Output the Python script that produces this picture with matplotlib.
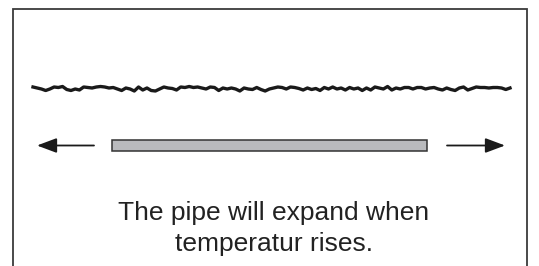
import numpy as np
import matplotlib.pyplot as plt
from matplotlib.patches import Rectangle

# rough "ground" line: vertical wiggle (px)
wave = [1, 0, -1, -2.5, -1, 1, 0.5, 1.5, -1.5, -2.5, -1, -2, 1, 0.5, 0, 1,
        1.5, 1, 0, 0.5, -1, -2.5, 0, -1, -3, 1, -2, 0, -2.5, -3, -1, 1,
        0, -0.5, -2, 1, 0.5, 1.5, 0.5, 1, 0, -1, 1, 0.5, -2.5, 0, -1, 0,
        -1, -3, 0, -1, -1.5, 0.5, -1.5, -3, -1, 0, 1, 0.5, -1, 1, 0.5, -0.5,
        -2, 0, -1.5, -0.5, -2.5, 0.5, -1, 1, -1, 0, -2, 0.5, -1, 0, -2.5, 0,
        -2, 1, 0, -1, 1.5, -2, 0, -1, 0.5, 0.5, -1, 0.5, 0.5, -1, 0, 0.5,
        -1, -2, 0, -1.5, -2.5, 0, 1, -2, -0.5, 1, 0.5, 0.5, 0, 0.5, 0.5, 0,
        -1.5, 0]
wave_x = (33, 510)
wave_y = 88

pipe_x = (112, 427)
pipe_y = (139.5, 151)
arrow_y = 145.5
left_arrow = (94, 37)
right_arrow = (447, 505)

caption = ["The pipe will expand when", "temperatur rises."]
caption_y = [220, 251]


def main():
    fig = plt.figure(figsize=(5.39, 2.66), dpi=100)
    ax = fig.add_axes([0, 0, 1, 1])
    ax.set_xlim(0, 539)
    ax.set_ylim(266, 0)
    ax.axis("off")

    # open frame (no bottom edge)
    ax.plot([12.5, 12.5, 527, 527], [266, 9, 9, 266],
            color="#3a3a3a", lw=1.3, solid_joinstyle="miter")

    xs = np.linspace(wave_x[0], wave_x[1], len(wave))
    ys = wave_y - np.array(wave)
    ax.plot(xs, ys, color="#1a1a1a", lw=2.4, solid_joinstyle="round")

    ax.add_patch(Rectangle((pipe_x[0], pipe_y[0]), pipe_x[1] - pipe_x[0],
                           pipe_y[1] - pipe_y[0], facecolor="#b9babd",
                           edgecolor="#333333", lw=1.1))

    for x0, x1 in (left_arrow, right_arrow):
        ax.annotate("", xy=(x1, arrow_y), xytext=(x0, arrow_y),
                    arrowprops=dict(arrowstyle="-|>,head_length=1.2,head_width=0.45",
                                    color="#1a1a1a", lw=1.3,
                                    shrinkA=0, shrinkB=0))

    for txt, y in zip(caption, caption_y):
        ax.text(274, y, txt, ha="center", va="baseline", fontsize=19,
                family="Liberation Sans", color="#222222")

    fig.savefig("out.png", dpi=100)


if __name__ == "__main__":
    main()
